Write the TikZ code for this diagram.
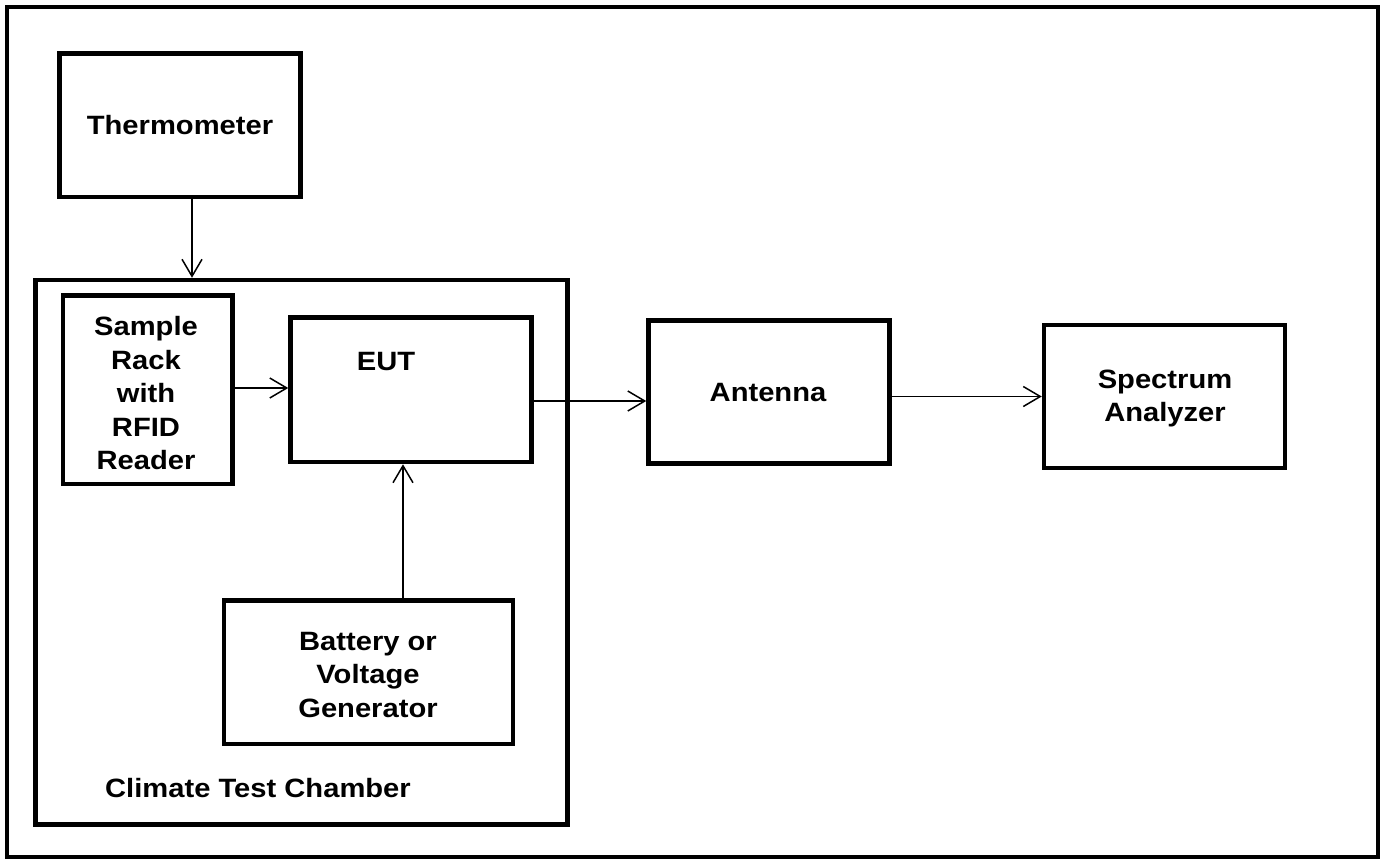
\documentclass[tikz,border=0pt]{standalone}
\usepackage{fontspec}
\setmainfont[FakeStretch=1.1]{Liberation Sans}
\usetikzlibrary{arrows.meta}
\tikzset{
  boxnode/.style={draw=black, line width=4.5pt, inner sep=0pt, align=center,
    font=\bfseries\fontsize{26.5}{33.5}\selectfont},
  lbl/.style={inner sep=0pt, align=center, font=\bfseries\fontsize{26.5}{33.5}\selectfont},
  arr/.style={draw=black, line width=1.5pt, -{Straight Barb[length=17pt,width=20pt]}}
}
\begin{document}
\begin{tikzpicture}[x=1pt,y=-1pt]
\useasboundingbox (0,0) rectangle (1387,860);
\node[draw=black, line width=4pt, minimum width=1371.5pt, minimum height=850.5pt, inner sep=0pt] (frame) at (692.25,431.75) {};
\node[boxnode, minimum width=241pt, minimum height=143.5pt] (therm) at (180,125) {Thermometer};
\node[boxnode, minimum width=532pt, minimum height=544.5pt] (chamber) at (301.5,552.25) {};
\node[boxnode, minimum width=169.5pt, minimum height=188.5pt] (sample) at (147.75,389.75) {};
\node[lbl] (samplelbl) at (146,393.5) {Sample\\Rack\\with\\RFID\\Reader};
\node[boxnode, minimum width=241pt, minimum height=144.5pt] (eut) at (411,389.75) {};
\node[lbl] (eutlbl) at (386,362) {EUT};
\node[boxnode, minimum width=241pt, minimum height=143pt] (ant) at (769,392) {};
\node[lbl] (antlbl) at (768,393) {Antenna};
\node[boxnode, minimum width=241pt, minimum height=143pt] (spec) at (1164.5,396.5) {};
\node[lbl] (speclbl) at (1165,398.5) {Spectrum\\Analyzer};
\node[boxnode, minimum width=289pt, minimum height=143.5pt] (batt) at (368.5,672.25) {};
\node[lbl] (battlbl) at (368,675) {Battery or\\Voltage\\Generator};
\node[lbl, anchor=west] (chlbl) at (105,788) {Climate Test Chamber};
\draw[arr] (therm.south -| 192,0) -- (chamber.north -| 192,0);
\draw[arr] (sample.east |- 0,388) -- (eut.west |- 0,388);
\draw[arr] (eut.east |- 0,401) -- (ant.west |- 0,401);
\draw[arr] (ant.east |- 0,396.5) -- (spec.west |- 0,396.5);
\draw[arr] (batt.north -| 403,0) -- (eut.south -| 403,0);
\end{tikzpicture}
\end{document}
